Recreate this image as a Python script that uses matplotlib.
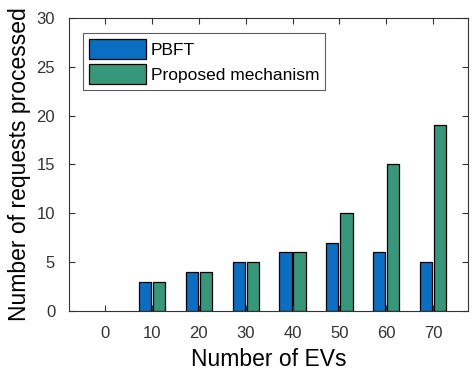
import numpy as np
import matplotlib
matplotlib.use('Agg')
from matplotlib import pyplot as plt

# data
num_evs = [0, 10, 20, 30, 40, 50, 60, 70]
pbft = [0, 3, 4, 5, 6, 7, 6, 5]
proposed = [0, 3, 4, 5, 6, 10, 15, 19]
series_names = ['PBFT', 'Proposed mechanism']

plt.rcParams['font.family'] = ['Liberation Sans', 'DejaVu Sans']

fig = plt.figure(figsize=(4.74, 3.81), dpi=100)
ax = fig.add_axes([0.1456, 0.1837, 0.8414, 0.7691])

x = np.arange(1, len(num_evs) + 1)
width = 0.26
for vals, dx, col, name in [(pbft, -0.15, '#0a6fc2', series_names[0]),
                            (proposed, 0.15, '#36977a', series_names[1])]:
    # zero-height bars are invisible in the original
    lw = [0.9 if v > 0 else 0 for v in vals]
    ax.bar(x + dx, vals, width, color=col, edgecolor='black', linewidth=lw,
           label=name, zorder=1)

ax.set_xlim(0.23, 8.74)
ax.set_ylim(0, 30)
ax.set_xticks(x)
ax.set_xticklabels([str(v) for v in num_evs])
ax.set_yticks(np.arange(0, 31, 5))
ax.tick_params(which='both', direction='in', top=True, right=True, length=4,
               width=0.8, labelsize=12, labelcolor='#333333', color='#333333')
ax.tick_params(axis='x', pad=11)
ax.tick_params(axis='y', pad=10)
for s in ax.spines.values():
    s.set_linewidth(0.8)
    s.set_color('#333333')
    s.set_zorder(3)

ax.set_xlabel('Number of EVs', fontsize=16.5, labelpad=5)
ax.set_ylabel('Number of requests processed', fontsize=16.5, labelpad=4)

leg = ax.legend(loc='upper left', bbox_to_anchor=(0.035, 0.95), fontsize=12.5,
                frameon=True, fancybox=False, edgecolor='#333333',
                handlelength=3.3, handleheight=1.4, handletextpad=0.25,
                borderpad=0.35, labelspacing=0.3, borderaxespad=0)
leg.get_frame().set_linewidth(0.8)
for h in leg.legend_handles:
    h.set_linewidth(0.9)

fig.savefig('out.png', dpi=100)
